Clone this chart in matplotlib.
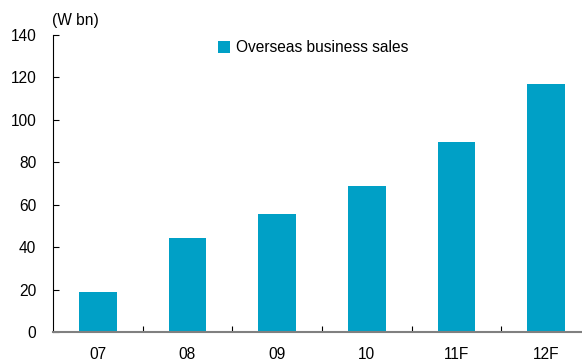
import matplotlib
matplotlib.use("Agg")
import matplotlib.pyplot as plt
import numpy as np

categories = ["07", "08", "09", "10", "11F", "12F"]
values = [18.8, 44.3, 55.8, 69.0, 89.7, 116.9]
yticks = [0, 20, 40, 60, 80, 100, 120, 140]

plt.rcParams['font.family'] = ['Liberation Sans', 'DejaVu Sans']
color = "#00A0C6"
fs = 11.2

fig = plt.figure(figsize=(5.82, 3.59), dpi=100)
ax = fig.add_axes([53/582, 1-332/359, 1-53/582, (332-35)/359])
x = np.arange(len(categories))
ax.bar(x, values, width=0.42, color=color, label="Overseas business sales", zorder=2)

ax.set_xlim(-0.5, 5.4)
ax.set_ylim(0, 140)
ax.set_yticks(yticks)
ax.set_yticklabels([str(v) for v in yticks], fontsize=fs)
ax.tick_params(axis='y', direction='in', length=4, width=0.8, pad=12)

ax.set_xticks(x)
ax.set_xticklabels(categories, fontsize=fs)
ax.set_xticks(x[:-1] + 0.5, minor=True)
ax.tick_params(axis='x', which='major', length=0, pad=11)
ax.tick_params(axis='x', which='minor', direction='in', length=4, width=0.8, color='black')

for s in ['top', 'right']:
    ax.spines[s].set_visible(False)
ax.spines['left'].set_linewidth(0.8)
ax.spines['bottom'].set_color('#808080')
ax.spines['bottom'].set_linewidth(1.5)

fig.text(52/582, 1-20/359, "(W bn)", fontsize=fs, ha='left', va='center')

ax.legend(loc='center left', bbox_to_anchor=((218-53)/529, 1-(48-35)/297), frameon=False,
          fontsize=fs, handlelength=0.75, handleheight=0.75, handletextpad=0.4,
          borderpad=0, borderaxespad=0)

fig.savefig("out.png", dpi=100)
